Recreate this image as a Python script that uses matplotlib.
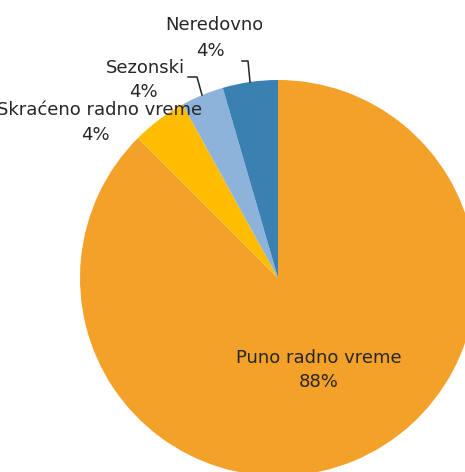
import numpy as np
import matplotlib
matplotlib.use('Agg')
from matplotlib import pyplot as plt
from matplotlib.transforms import Bbox

# data (clockwise from the top)
categories = ['Puno radno vreme', 'Skraćeno radno vreme', 'Sezonski', 'Neredovno']
shares = [87.5, 4.5, 3.5, 4.5]
pct_labels = ['88%', '4%', '4%', '4%']
colors = ['#F4A12A', '#FFBC00', '#8DB3DB', '#3A80B0']

W, H = 465, 472
fig = plt.figure(figsize=(W / 100, H / 100), dpi=100)
ax = fig.add_axes([0, 0, 1, 1])

# pie centre / radius in pixel units (y measured from the bottom)
cx, cy, r = 278, H - 278, 198
ax.pie(shares, colors=colors, startangle=90, counterclock=False,
       center=(cx, cy), radius=r, wedgeprops=dict(linewidth=0))
ax.set_xlim(0, W)
ax.set_ylim(0, H)
ax.set_aspect('auto')
ax.axis('off')

font = dict(family='DejaVu Sans', fontsize=13, color='#262626', va='center')

def txt(x, y, s, ha='center'):
    # x, y measured from the top-left corner of the picture
    return ax.text(x, H - y, s, ha=ha, **font)

txt(319, 358, categories[0])
txt(319, 382, pct_labels[0])
txt(202, 110, categories[1], ha='right')
txt(95, 135, pct_labels[1])
txt(145, 68, categories[2])
txt(143, 92, pct_labels[2])
t = txt(214, 25, categories[3])
t.set_clip_box(Bbox([[167, H - 60], [262, H]]))
t.set_clip_on(True)
txt(210, 51, pct_labels[3])

# leader lines
ax.plot([242, 248, 250], [H - 61, H - 61, H - 82], color='#262626', lw=1.1)
ax.plot([188, 197, 202], [H - 77, H - 77, H - 95], color='#262626', lw=1.1)

fig.savefig('out.png', dpi=100)
